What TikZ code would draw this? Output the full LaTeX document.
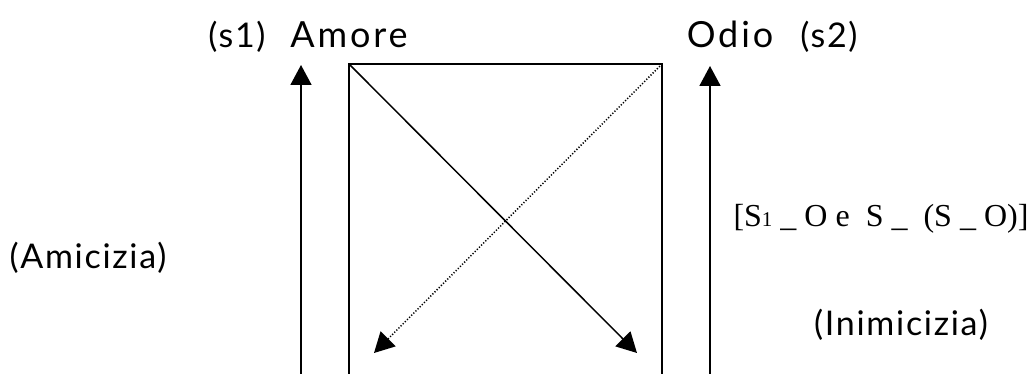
\documentclass[tikz,border=0pt]{standalone}
\usepackage{fontspec}
\setmainfont{Lato}
\newfontfamily\handfont[LetterSpace=5]{Lato}
\newfontfamily\wordfont[LetterSpace=8]{Lato}
\newfontfamily\timesfont{Liberation Serif}
\usetikzlibrary{arrows.meta}

\begin{document}
\begin{tikzpicture}[x=1pt,y=-1pt,
  every node/.style={inner sep=0pt,anchor=base,font=\handfont\fontsize{34}{40}\selectfont},
  pole/.style={font=\wordfont\fontsize{36}{40}\selectfont},
  side/.style={line width=1.7pt,-{Triangle[length=20pt,width=21pt]}},
  diag/.style={line width=1.5pt,-{Triangle[length=20pt,width=21pt]}}]
\clip (0,0) rectangle (1028,374);
% labels
\node (s1) at (237,48) {(s1)};
\node[pole] (amore) at (349,48) {Amore};
\node[pole] (odio) at (730,48) {Odio};
\node (s2) at (829,48) {(s2)};
\node (amicizia) at (88,268) {(Amicizia)};
\node (inimicizia) at (901,335) {(Inimicizia)};
\node[font=\timesfont\fontsize{32}{36}\selectfont] (formula) at (881,226)
  {[S{\fontsize{21}{22}\selectfont 1} \_ O e~ S \_~ (S \_ O)]};
% square and sides
\coordinate (tl) at (349,64);
\coordinate (tr) at (662,64);
\coordinate (bl) at (349,380);
\coordinate (br) at (662,380);
\coordinate (lfoot) at (301,380);
\coordinate (ltip) at (301,65);
\coordinate (rfoot) at (710,380);
\coordinate (rtip) at (710,66);
\coordinate (sa) at (374,353);
\coordinate (sb) at (637,353);
\draw[line width=1.7pt] (bl) -- (tl) -- (tr) -- (br);
\draw[side] (lfoot) -- (ltip);
\draw[side] (rfoot) -- (rtip);
% diagonals
\draw[diag] (tl) -- (sb);
\draw[diag,dash pattern=on 1.2pt off 1.8pt] (tr) -- (sa);
\end{tikzpicture}
\end{document}
